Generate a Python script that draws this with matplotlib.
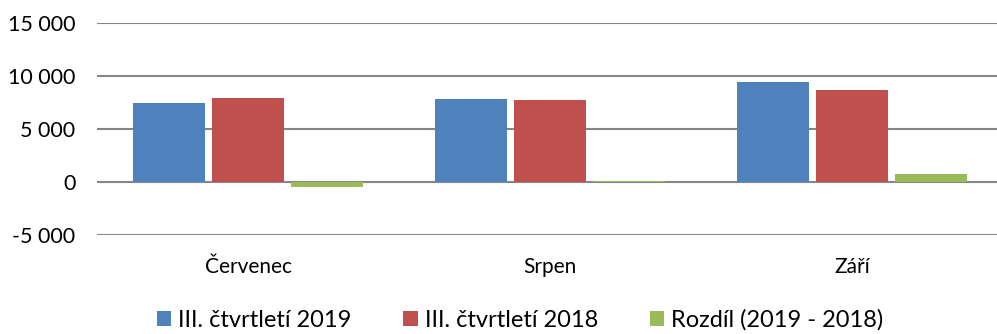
import matplotlib.pyplot as plt
import numpy as np
from matplotlib.ticker import FuncFormatter

months = ["Červenec", "Srpen", "Září"]
q3_2019 = [7430, 7800, 9405]
q3_2018 = [7900, 7710, 8650]
diff = [a - b for a, b in zip(q3_2019, q3_2018)]
series_names = ["III. čtvrtletí 2019", "III. čtvrtletí 2018", "Rozdíl (2019 - 2018)"]
colors = ["#4F81BD", "#C0504D", "#9BBB59"]

plt.rcParams['font.family'] = ['Lato', 'DejaVu Sans']

fig = plt.figure(figsize=(9.97, 3.34), dpi=100)
# axes run slightly past the right edge, so the grid is cut by the figure border
ax = fig.add_axes([0.0973, 0.2964, 0.9087, 0.6346])

x = np.arange(len(months))
width = 0.238
offset = 0.262
for i, vals in enumerate([q3_2019, q3_2018, diff]):
    ax.bar(x + (i - 1) * offset, vals, width, color=colors[i], label=series_names[i], zorder=3)

ax.set_xlim(-0.5, 2.5)
ax.set_ylim(-5000, 15000)
ax.set_yticks([-5000, 0, 5000, 10000, 15000])
ax.yaxis.set_major_formatter(FuncFormatter(lambda v, p: f"{int(v):,}".replace(",", " ")))
ax.grid(axis='y', color='#868686', linewidth=1.5, zorder=0)
for s in ax.spines.values():
    s.set_visible(False)
ax.tick_params(axis='y', length=0, pad=15.5, labelsize=15.5, labelcolor='black')
ax.set_xticks(x)
ax.set_xticklabels(months)
ax.tick_params(axis='x', length=0, pad=16, labelsize=15)

ax.legend(loc='center', bbox_to_anchor=(0.467, -0.40), ncol=3, frameon=False,
          fontsize=17, handlelength=0.6, handleheight=0.6, handletextpad=0.3,
          columnspacing=2.2, borderpad=0)

fig.savefig("out.png", dpi=100)
